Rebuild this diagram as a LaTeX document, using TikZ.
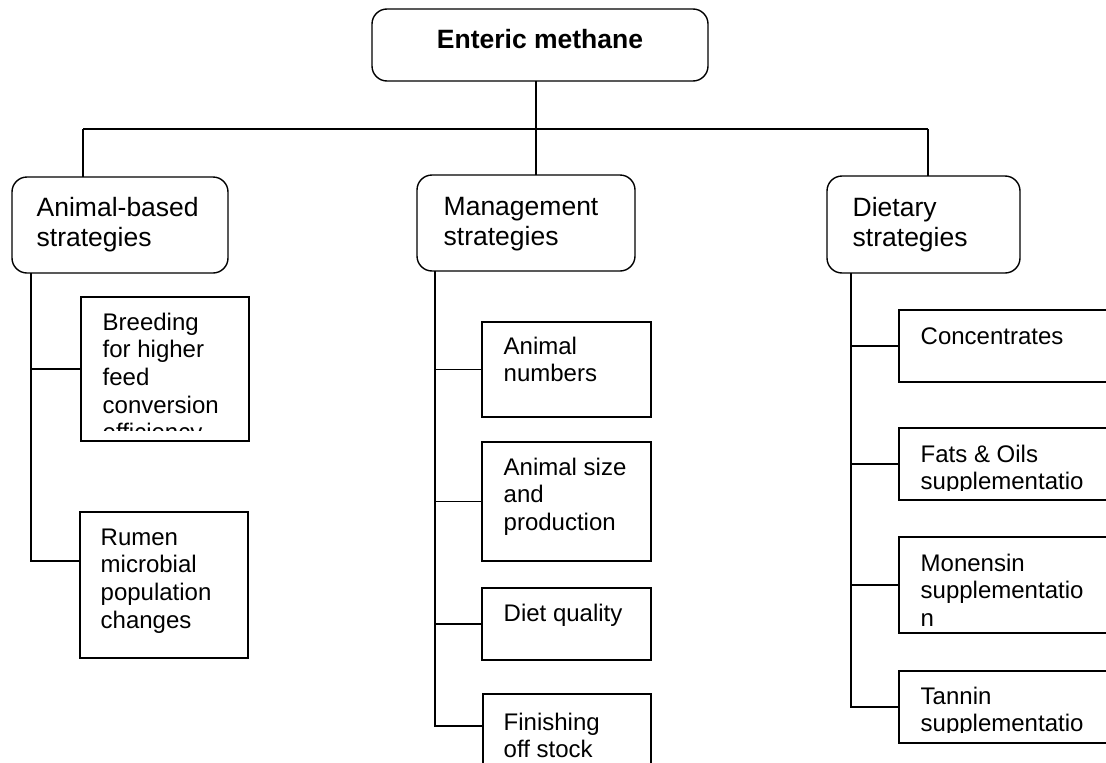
\documentclass[tikz,border=0pt]{standalone}
\usepackage{fontspec}
\setmainfont{Liberation Sans}
\newcommand{\tblock}[1]{\parbox[t]{220pt}{\raggedright #1}}
\begin{document}
\begin{tikzpicture}[x=1pt,y=-1pt,line width=1.4pt,
  bx/.style={draw,rectangle,anchor=north west,inner sep=0pt,outer sep=0pt},
  rbx/.style={bx,rounded corners=15pt},
  smalltxt/.style={anchor=base west,inner sep=0pt,font=\fontsize{24}{27.7}\selectfont},
  bigtxt/.style={anchor=base west,inner sep=0pt,font=\fontsize{26.5}{30}\selectfont},
  titletxt/.style={anchor=base,inner sep=0pt,font=\bfseries\fontsize{26.5}{30}\selectfont}]
\clip (0,0) rectangle (1106,763);
% main boxes
\node[rbx,minimum width=336pt,minimum height=72pt] (top) at (372,9) {};
\node[rbx,minimum width=216pt,minimum height=96pt] (anim) at (12,177) {};
\node[rbx,minimum width=218pt,minimum height=96pt] (mgmt) at (417,175) {};
\node[rbx,minimum width=193pt,minimum height=97pt] (diet) at (827,176) {};
% sub boxes
\node[bx,minimum width=168pt,minimum height=144pt] (breed) at (81,297) {};
\node[bx,minimum width=168pt,minimum height=146pt] (rumen) at (80,512) {};
\node[bx,minimum width=169pt,minimum height=95pt] (num) at (482,322) {};
\node[bx,minimum width=169pt,minimum height=119pt] (size) at (482,442) {};
\node[bx,minimum width=169pt,minimum height=72pt] (dq) at (482,588) {};
\node[bx,minimum width=168pt,minimum height=100pt] (fin) at (483,694) {};
\node[bx,minimum width=230pt,minimum height=72pt] (conc) at (899,310) {};
\node[bx,minimum width=230pt,minimum height=72pt] (fats) at (899,428) {};
\node[bx,minimum width=230pt,minimum height=96pt] (mon) at (899,537) {};
\node[bx,minimum width=230pt,minimum height=72pt] (tan) at (899,671) {};
% texts
\node[titletxt] (ttop) at (540,48) {Enteric methane};
\node[bigtxt] (tanim) at (36,216) {\tblock{Animal-based\\strategies}};
\node[bigtxt] (tmgmt) at (443,215) {\tblock{Management\\strategies}};
\node[bigtxt] (tdiet) at (852,216) {\tblock{Dietary\\strategies}};
\begin{scope}
\clip (81,297) rectangle (249,430);
\node[smalltxt] (tbreed) at (102,330) {\tblock{Breeding\\for higher\\feed\\conversion\\efficiency}};
\end{scope}
\node[smalltxt] (trumen) at (100,545) {\tblock{Rumen\\microbial\\population\\changes}};
\node[smalltxt] (tnum) at (503,354) {\tblock{Animal\\numbers}};
\node[smalltxt] (tsize) at (503,475) {\tblock{Animal size\\and\\production}};
\node[smalltxt] (tdq) at (503,621) {\tblock{Diet quality}};
\node[smalltxt] (tfin) at (503,730) {\tblock{Finishing\\off stock}};
\node[smalltxt] (tconc) at (920,344) {\tblock{Concentrates}};
\begin{scope}
\clip (899,428) rectangle (1106,490);
\node[smalltxt] (tfats) at (920,462) {\tblock{Fats \& Oils\\supplementatio}};
\end{scope}
\node[smalltxt] (tmon) at (920,571) {\tblock{Monensin\\supplementatio\\n}};
\begin{scope}
\clip (899,671) rectangle (1106,732);
\node[smalltxt] (ttan) at (920,704) {\tblock{Tannin\\supplementatio}};
\end{scope}
% connectors
\coordinate (busL) at (83,129);
\coordinate (busM) at (536,129);
\coordinate (busR) at (928,129);
\draw (busL) -- (busR);
\draw (busM |- top.south) -- (busM |- mgmt.north);
\draw (busL) -- (busL |- anim.north);
\draw (busR) -- (busR |- diet.north);
\coordinate (tA) at ([xshift=19pt]anim.south west);
\coordinate (tM) at ([xshift=18pt]mgmt.south west);
\coordinate (tR) at ([xshift=24pt]diet.south west);
\coordinate (rb) at ([yshift=-49pt]rumen.north west);
\coordinate (fb) at ([yshift=-32pt]fin.north west);
\draw (tA) |- (rb);
\draw (tA |- breed.west) -- (breed.west);
\draw (tM) |- (fb);
\draw (tM |- num.west) -- (num.west);
\draw (tM |- size.west) -- (size.west);
\draw (tM |- dq.west) -- (dq.west);
\draw (tR) |- (tan.west);
\draw (tR |- conc.west) -- (conc.west);
\draw (tR |- fats.west) -- (fats.west);
\draw (tR |- mon.west) -- (mon.west);
\end{tikzpicture}
\end{document}
